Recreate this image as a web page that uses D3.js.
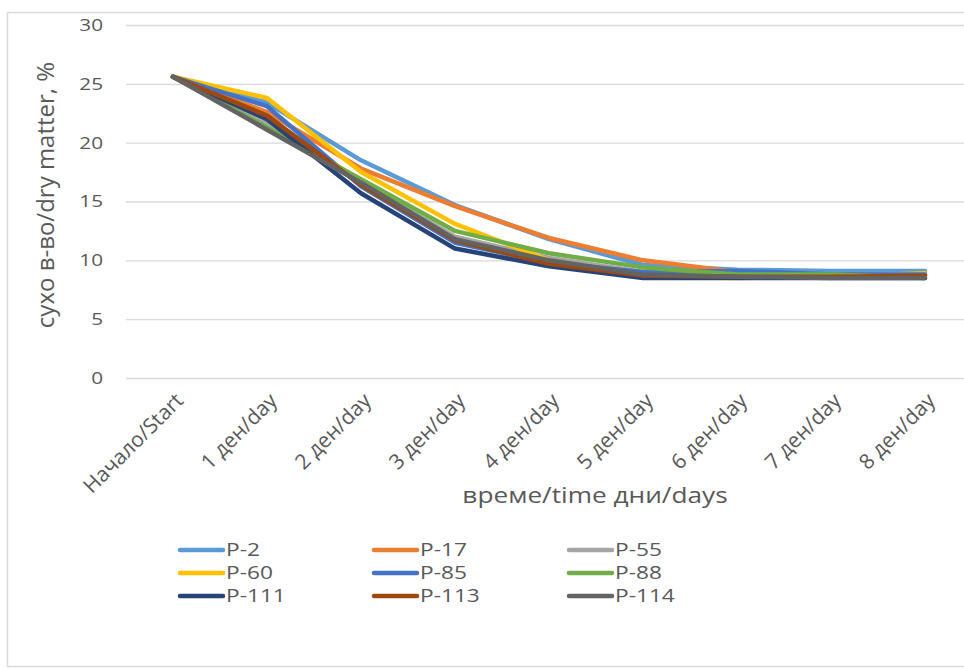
<!DOCTYPE html>
<html>
<head>
<meta charset="utf-8">
<script src="https://cdn.jsdelivr.net/npm/d3@7"></script>
<style>
  html, body { margin: 0; padding: 0; background: #fff; }
  svg { display: block; }
</style>
</head>
<body>
<svg id="chart" width="964" height="670"></svg>
<script>
// Categories along the x axis (days of drying)
const categories = ["Начало/Start", "1 ден/day", "2 ден/day", "3 ден/day", "4 ден/day",
                    "5 ден/day", "6 ден/day", "7 ден/day", "8 ден/day"];

// Dry matter, % for each sample
const seriesNames = ["P-2", "P-17", "P-55", "P-60", "P-85", "P-88", "P-111", "P-113", "P-114"];
const p2   = [25.6, 23.4, 18.5, 14.7, 11.8, 9.6, 9.2, 9.1, 9.1];
const p17  = [25.6, 22.6, 17.8, 14.6, 11.9, 10.0, 9.0, 8.8, 8.8];
const p55  = [25.6, 21.6, 16.6, 12.0, 10.2, 9.0, 8.8, 8.7, 8.7];
const p60  = [25.6, 23.8, 17.5, 13.1, 10.0, 8.6, 8.5, 8.6, 8.9];
const p85  = [25.6, 23.1, 16.3, 11.5, 9.8, 9.0, 9.1, 8.8, 8.8];
const p88  = [25.6, 21.3, 16.9, 12.5, 10.6, 9.4, 8.8, 8.8, 8.5];
const p111 = [25.6, 22.0, 15.7, 11.0, 9.5, 8.5, 8.5, 8.5, 8.5];
const p113 = [25.6, 22.3, 16.4, 11.7, 9.7, 8.7, 8.6, 8.6, 8.7];
const p114 = [25.6, 21.1, 16.6, 11.8, 10.0, 8.8, 8.6, 8.5, 8.5];
const seriesValues = [p2, p17, p55, p60, p85, p88, p111, p113, p114];

const yTicks = [0, 5, 10, 15, 20, 25, 30];
const colors = ["#5B9BD5", "#ED7D31", "#A5A5A5", "#FFC000", "#4472C4",
                "#70AD47", "#264478", "#9E480E", "#636363"];

const series = seriesNames.map((name, i) => ({
  name, color: colors[i],
  values: seriesValues[i].map((v, j) => ({ cat: categories[j], v }))
}));

const svg = d3.select("#chart");
const font = "'Open Sans', 'Liberation Sans', sans-serif";
const textColor = "#595959";
const stretch = 1.22; // horizontal widening of horizontal text

// Outer chart frame
svg.append("rect")
  .attr("x", 7.5).attr("y", 12.5)
  .attr("width", 970).attr("height", 654)
  .attr("fill", "#fff").attr("stroke", "#d9d9d9").attr("stroke-width", 1.5);

const plotLeft = 126, plotRight = 972, plotTop = 25, plotBottom = 378;

const x = d3.scalePoint().domain(categories).range([plotLeft, plotRight]).padding(0.5);
const y = d3.scaleLinear().domain([0, 30]).range([plotBottom, plotTop]);

// Horizontal gridlines and y-axis labels
const yAxis = d3.axisLeft(y).tickValues(yTicks).tickSize(-(plotRight - plotLeft)).tickPadding(23);
const gy = svg.append("g").attr("transform", `translate(${plotLeft},0)`).call(yAxis);
gy.select(".domain").remove();
gy.selectAll(".tick line").attr("stroke", "#d9d9d9").attr("stroke-width", 1.3);
gy.selectAll(".tick text")
  .attr("fill", textColor).style("font-family", font).style("font-size", "17px")
  .attr("x", 0)
  .attr("transform", `translate(-23,0) scale(${stretch},1)`);

// X-axis category labels, rotated
const xAxis = d3.axisBottom(x).tickSize(0).tickPadding(0);
const gx = svg.append("g").attr("transform", `translate(0,${plotBottom})`).call(xAxis);
gx.select(".domain").remove();
gx.selectAll(".tick text")
  .attr("fill", textColor).style("font-family", font).style("font-size", "21px")
  .attr("text-anchor", "end")
  .attr("dy", 0).attr("y", 0)
  .attr("transform", "translate(11,24) rotate(-45)");

// Axis titles
svg.append("text")
  .attr("transform", `translate(595,503) scale(${stretch},1)`)
  .attr("text-anchor", "middle")
  .attr("fill", textColor).style("font-family", font).style("font-size", "21.5px")
  .text("време/time дни/days");

svg.append("text")
  .attr("transform", "translate(54,195) rotate(-90)")
  .attr("text-anchor", "middle")
  .attr("fill", textColor).style("font-family", font).style("font-size", "24px")
  .text("сухо в-во/dry matter, %");

// Series lines
const line = d3.line().x(d => x(d.cat)).y(d => y(d.v));
svg.append("g").selectAll("path").data(series).join("path")
  .attr("d", d => line(d.values))
  .attr("fill", "none")
  .attr("stroke", d => d.color)
  .attr("stroke-width", 4.5)
  .attr("stroke-linejoin", "round")
  .attr("stroke-linecap", "round");

// Legend: three columns, three rows
const legendCols = [180, 374, 569];
const legendRows = [550, 573, 596];
const lg = svg.append("g").selectAll("g").data(series).join("g")
  .attr("transform", (d, i) => `translate(${legendCols[i % 3]},${legendRows[Math.floor(i / 3)]})`);
lg.append("line")
  .attr("x1", 0).attr("x2", 43).attr("y1", 0).attr("y2", 0)
  .attr("stroke", d => d.color).attr("stroke-width", 4.5).attr("stroke-linecap", "round");
lg.append("text")
  .attr("transform", `translate(46,0) scale(${stretch + 0.04},1)`)
  .attr("dy", "0.35em")
  .attr("fill", textColor).style("font-family", font).style("font-size", "18px")
  .text(d => d.name);
</script>
</body>
</html>
